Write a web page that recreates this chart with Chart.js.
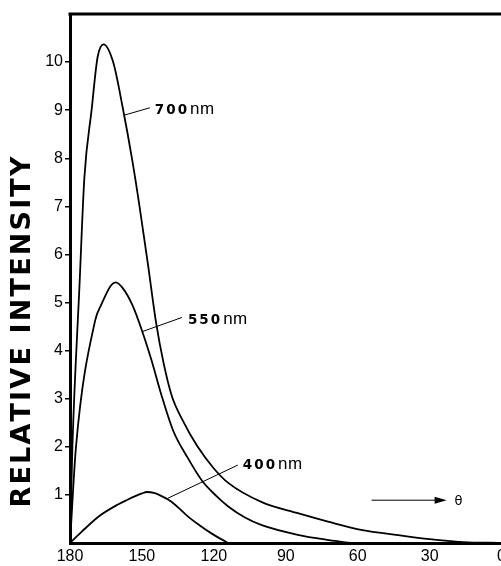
<!DOCTYPE html>
<html>
<head>
<meta charset="utf-8">
<script src="https://cdn.jsdelivr.net/npm/chart.js@4.4.1/dist/chart.umd.min.js"></script>
<style>
  html, body { margin: 0; padding: 0; background: #fff; overflow: hidden; }
  #wrap { width: 501px; height: 566px; overflow: hidden; }
  canvas { display: block; }
</style>
</head>
<body>
<div id="wrap"><canvas id="chart" width="510" height="566"></canvas></div>
<script>
// scattering angle (deg) and relative intensity
const angle700 = [180, 179, 176, 174, 171, 168.5, 166, 162, 158, 154, 151, 147.5, 144, 141, 137.5, 133, 127, 120, 114, 100, 85, 72, 58, 44, 30, 16, 0];
const intensity700 = [0, 2.0, 5.4, 7.6, 9.0, 10.1, 10.37, 10.0, 9.05, 7.95, 7.0, 5.8, 4.55, 3.75, 3.05, 2.55, 2.02, 1.55, 1.25, 0.85, 0.62, 0.44, 0.27, 0.17, 0.08, 0.02, 0];

const angle550 = [180, 177.5, 169.5, 167, 163, 161, 158, 154, 150, 146, 142, 137, 131, 125, 119, 114, 107, 100, 85, 72, 63];
const intensity550 = [0, 2.0, 4.63, 4.95, 5.35, 5.42, 5.3, 4.95, 4.42, 3.8, 3.1, 2.34, 1.78, 1.3, 0.98, 0.76, 0.53, 0.37, 0.17, 0.06, 0];

const angle400 = [180, 175, 167.5, 160, 156, 153, 150, 148, 145, 142, 138, 134, 131, 126, 121, 117, 114];
const intensity400 = [0, 0.24, 0.57, 0.8, 0.9, 0.97, 1.03, 1.06, 1.04, 0.98, 0.87, 0.7, 0.56, 0.37, 0.2, 0.08, 0];

const seriesNames = ['700', '550', '400'];
const xTicks = [180, 150, 120, 90, 60, 30, 0];
const yTicks = [1, 2, 3, 4, 5, 6, 7, 8, 9, 10];
const yTitle = 'RELATIVE INTENSITY';

function toPoints(xs, ys) {
  return xs.map((x, i) => ({ x: x, y: ys[i] }));
}

function curve(name, xs, ys) {
  return {
    label: name + ' nm',
    data: toPoints(xs, ys),
    borderColor: '#000',
    borderWidth: 1.8,
    pointRadius: 0,
    fill: false,
    cubicInterpolationMode: 'monotone'
  };
}

// label positions in data units (angle, intensity)
const notes = [
  { name: seriesNames[0], at: [144.6, 8.92], from: [157.1, 8.9], to: [146.7, 9.05] },
  { name: seriesNames[1], at: [130.8, 4.56], from: [149.6, 4.4], to: [133.3, 4.69] },
  { name: seriesNames[2], at: [107.9, 1.54], from: [139.2, 0.93], to: [110.0, 1.62] }
];

function spacedText(ctx, text, x, y, spacing) {
  let cx = x;
  for (const ch of text) {
    ctx.fillText(ch, cx, y);
    cx += ctx.measureText(ch).width + spacing;
  }
  return cx - spacing;
}

const decor = {
  id: 'decor',
  afterDraw(chart) {
    const ctx = chart.ctx;
    const area = chart.chartArea;
    const sx = chart.scales.x, sy = chart.scales.y;
    ctx.save();
    ctx.strokeStyle = '#000';
    ctx.fillStyle = '#000';

    // top frame line
    ctx.lineWidth = 3;
    ctx.beginPath();
    ctx.moveTo(area.left - 1.5, area.top);
    ctx.lineTo(chart.width, area.top);
    ctx.stroke();

    // curve labels with leader lines
    notes.forEach(n => {
      ctx.lineWidth = 1;
      ctx.beginPath();
      ctx.moveTo(sx.getPixelForValue(n.from[0]), sy.getPixelForValue(n.from[1]));
      ctx.lineTo(sx.getPixelForValue(n.to[0]), sy.getPixelForValue(n.to[1]));
      ctx.stroke();
      const px = sx.getPixelForValue(n.at[0]);
      const py = sy.getPixelForValue(n.at[1]);
      ctx.textBaseline = 'alphabetic';
      ctx.textAlign = 'left';
      ctx.font = 'bold 13.5px "DejaVu Sans"';
      const end = spacedText(ctx, n.name, px, py, 2);
      ctx.font = '17px "Liberation Sans"';
      spacedText(ctx, 'nm', end + 3, py, 0.5);
    });

    // direction arrow with theta
    const ay = sy.getPixelForValue(0.89);
    const ax0 = sx.getPixelForValue(54.2);
    const ax1 = sx.getPixelForValue(22.9);
    ctx.lineWidth = 1;
    ctx.beginPath();
    ctx.moveTo(ax0, ay);
    ctx.lineTo(ax1 - 10, ay);
    ctx.stroke();
    ctx.beginPath();
    ctx.moveTo(ax1, ay);
    ctx.lineTo(ax1 - 12, ay - 3.5);
    ctx.lineTo(ax1 - 12, ay + 3.5);
    ctx.closePath();
    ctx.fill();
    ctx.font = '13px "DejaVu Sans"';
    ctx.textBaseline = 'middle';
    ctx.fillText('θ', sx.getPixelForValue(19.6), ay + 1);

    // rotated axis title, stretched to its span in the figure
    ctx.font = 'bold 27px "DejaVu Sans"';
    ctx.textBaseline = 'middle';
    let natural = 0;
    for (const ch of yTitle) natural += ctx.measureText(ch).width;
    const span = 351;
    const spacing = (span - natural) / (yTitle.length - 1);
    ctx.translate(23, 332);
    ctx.rotate(-Math.PI / 2);
    spacedText(ctx, yTitle, -span / 2, 0, spacing);
    ctx.restore();
  }
};

new Chart(document.getElementById('chart'), {
  type: 'line',
  data: {
    datasets: [
      curve(seriesNames[0], angle700, intensity700),
      curve(seriesNames[1], angle550, intensity550),
      curve(seriesNames[2], angle400, intensity400)
    ]
  },
  options: {
    responsive: false,
    animation: false,
    layout: { padding: { top: 14, left: 0, right: 0, bottom: 0 } },
    plugins: { legend: { display: false }, tooltip: { enabled: false } },
    scales: {
      x: {
        type: 'linear',
        reverse: true,
        min: 0,
        max: 180,
        afterBuildTicks: s => { s.ticks = xTicks.map(v => ({ value: v })); },
        afterFit: s => { s.height = 23; },
        grid: { display: false, drawTicks: false },
        border: { display: true, width: 3, color: '#000' },
        ticks: {
          padding: 4,
          color: '#000',
          autoSkip: false,
          maxRotation: 0,
          font: { family: 'Liberation Sans', size: 16 }
        }
      },
      y: {
        min: 0,
        max: 11,
        afterBuildTicks: s => { s.ticks = yTicks.map(v => ({ value: v })); },
        afterFit: s => { s.width = 70; },
        grid: { drawOnChartArea: false, drawTicks: true, tickLength: 5, color: '#000', lineWidth: 1.5 },
        border: { display: true, width: 3, color: '#000' },
        ticks: {
          padding: 2,
          color: '#000',
          font: { family: 'Liberation Sans', size: 16 }
        }
      }
    }
  },
  plugins: [decor]
});
</script>
</body>
</html>
